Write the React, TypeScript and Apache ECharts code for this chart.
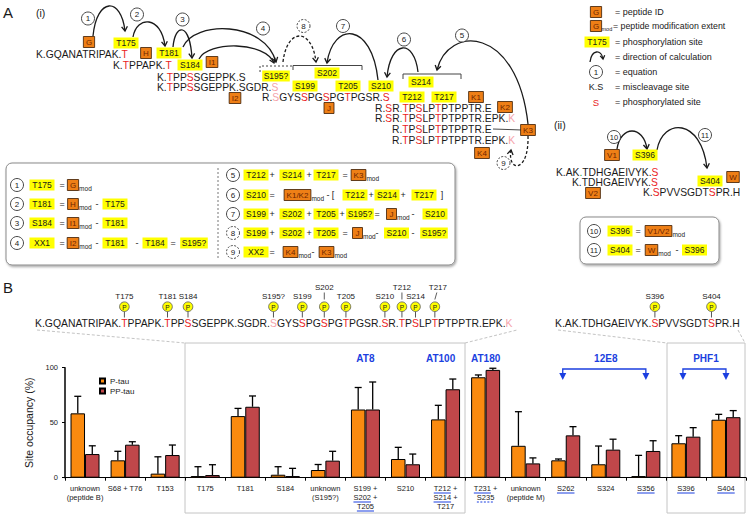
import React, { useEffect, useRef } from "react";
import * as echarts from "echarts";

// ---------------- data ----------------
const categories = [
  "unknown\n(peptide B)", "S68 + T76", "T153", "T175", "T181", "S184",
  "unknown\n(S195?)", "S199 +\nS202 +\nT205", "S210", "T212 +\nS214 +\nT217",
  "T231 +\nS235", "unknown\n(peptide M)", "S262", "S324", "S356", "S396", "S404",
];
const pTau = [58.5, 15.8, 3.7, 1.5, 56, 2.7, 7, 62, 17, 53, 91.3, 29, 15.8, 12.2, 1.5, 31.3, 52.7];
const pTauSd = [15.5, 8.2, 15.3, 8.5, 7, 7.3, 5, 20, 10.6, 12.8, 2.1, 31, 1.2, 16.6, 18.8, 6.9, 4.9];
const ppTau = [21.5, 30, 20.6, 2.4, 64.5, 1.5, 15.5, 62, 12.2, 80.4, 98, 13, 38.5, 25.5, 24.3, 37.3, 55];
const ppTauSd = [7.5, 2.7, 9.1, 9.4, 9.8, 7, 8.5, 25, 9.3, 9.3, 1.5, 5, 7.9, 9.5, 9.3, 8.2, 6];
const seriesNames = ["P-tau", "PP-tau"];
const yMin = 0;
const yMax = 100;
const yInterval = 50;
// [category index, label line, token, dashed]
const underlined: [number, number, string, boolean][] = [
  [7, 1, "S202", false], [7, 2, "T205", false], [9, 0, "T212", false], [9, 1, "S214", false],
  [10, 0, "T231", false], [10, 1, "S235", true], [12, 0, "S262", false], [14, 0, "S356", false],
  [15, 0, "S396", false], [16, 0, "S404", false],
];
// [antibody, first category, last category, bracket]
const antibodies: [string, number, number, boolean][] = [
  ["AT8", 7, 7, false], ["AT100", 9, 9, false], ["AT180", 10, 10, false],
  ["12E8", 12, 14, true], ["PHF1", 15, 16, true],
];
const seqB1 = "K.GQANATRIPAK.*TPPAPK.*TPP*SSGEPPK.SGDR.~SGYS*SPG*SPG*TPGSR.*SR.*TP*SLP*TPTPPTR.EPK.~K";
const sitesB1 = ["T175", "T181", "S184", "S195?", "S199", "S202", "T205", "S210", "T212", "S214", "T217"];
const seqB2 = "K.AK.TDHGAEIVYK.*SPVVSGDT*SPR.H";
const sitesB2 = ["S396", "S404"];
const raisedSites = ["S202", "T212", "T217"];

// ---------------- style ----------------
const FONT = '"Liberation Sans", Arial, Helvetica, sans-serif';
const INK = "#1a1a1a";
const YEL = "#FFFF00";
const ORG = "#EE7F16";
const ORG_TXT = "#6e2600";
const RED = "#EA1C24";
const PINK = "#F5A3AA";
const GREEN = "#28A040";
const BLUE = "#1B3FE0";
const GRAY = "#C4C4C4";
const BAR_O = "#FA8A0F";
const BAR_R = "#C0474A";
const BAR_W = 14.5;
const X_FONT = 7.5;
const X_LH = 9;
const X_MARGIN = 6;

let measureCtx: any = null;
function tw(text: string, size: number, weight = "normal") {
  if (!measureCtx) measureCtx = document.createElement("canvas").getContext("2d");
  measureCtx.font = `${weight} ${size}px "Liberation Sans", Arial, sans-serif`;
  return measureCtx.measureText(text).width;
}

function txt(out: any[], x: number, y: number, text: string, size = 9, fill = INK, align = "left", weight = "normal") {
  out.push({
    type: "text", x, y, silent: true, z: 10,
    style: {
      text, fontSize: size, fontFamily: FONT, fontWeight: weight, fill,
      align, textAlign: align, verticalAlign: "middle", textVerticalAlign: "middle",
    },
  });
}
function line(out: any[], x1: number, y1: number, x2: number, y2: number, stroke = INK, w = 1, dash?: number[]) {
  out.push({ type: "line", silent: true, shape: { x1, y1, x2, y2 }, style: { stroke, lineWidth: w, ...(dash ? { lineDash: dash } : {}) } });
}
function yLabel(out: any[], cx: number, cy: number, text: string, size = 8.5) {
  const W = Math.max(25, tw(text, size) + 3);
  out.push({ type: "rect", silent: true, shape: { x: cx - W / 2, y: cy - 5.5, width: W, height: 11 }, style: { fill: YEL } });
  txt(out, cx, cy + 0.3, text, size, INK, "center");
}
function oBox(out: any[], cx: number, cy: number, text: string, mod = false, size = 8) {
  const W = Math.max(10, tw(text, size) + 5);
  out.push({ type: "rect", silent: true, shape: { x: cx - W / 2, y: cy - 5.5, width: W, height: 11 }, style: { fill: ORG, stroke: "#3a1a00", lineWidth: 0.8 } });
  txt(out, cx, cy + 0.3, text, size, ORG_TXT, "center");
  if (mod) txt(out, cx + W / 2 + 0.5, cy + 3, "mod", 6.5, INK, "left");
}
function cNum(out: any[], cx: number, cy: number, n: string, dashed = false, r = 6.5) {
  out.push({ type: "circle", silent: true, shape: { cx, cy, r }, style: { fill: "#fff", stroke: "#333", lineWidth: 0.9, ...(dashed ? { lineDash: [2, 1.5] } : {}) } });
  txt(out, cx, cy + 0.3, n, n.length > 1 ? 7.5 : 8, INK, "center");
}
function curve(out: any[], x1: number, y1: number, c1x: number, c1y: number, c2x: number, c2y: number, x2: number, y2: number, dashed = false, head = 4.5) {
  out.push({
    type: "bezierCurve", silent: true,
    shape: { x1, y1, cpx1: c1x, cpy1: c1y, cpx2: c2x, cpy2: c2y, x2, y2 },
    style: { stroke: INK, lineWidth: 1.3, fill: "none", ...(dashed ? { lineDash: [3, 2] } : {}) },
  });
  const dx = x2 - c2x, dy = y2 - c2y;
  const L = Math.hypot(dx, dy) || 1;
  const ux = dx / L, uy = dy / L;
  const bx = x2 - ux * head, by = y2 - uy * head, h = head * 0.65;
  out.push({
    type: "polyline", silent: true,
    shape: { points: [[bx - uy * h, by + ux * h], [x2, y2], [bx + uy * h, by - ux * h]] },
    style: { stroke: INK, lineWidth: 1.3, fill: "none" },
  });
}
function arc(out: any[], x1: number, y1: number, x2: number, y2: number, peak: number, dashed = false, head = 4.5) {
  const cy = (peak - 0.125 * (y1 + y2)) / 0.75;
  curve(out, x1, y1, x1 + (x2 - x1) * 0.12, cy, x2 - (x2 - x1) * 0.12, cy, x2, y2, dashed, head);
}
function roundBox(out: any[], x: number, y: number, w: number, h: number) {
  out.push({
    type: "rect", silent: true, shape: { x, y, width: w, height: h, r: 6 },
    style: { fill: "#fff", stroke: "#8a8a8a", lineWidth: 1, shadowBlur: 2, shadowColor: "rgba(0,0,0,0.35)", shadowOffsetX: 1, shadowOffsetY: 1.5 },
  });
}
function parseSeq(s: string) {
  const chars: { c: string; k: string }[] = [];
  for (let i = 0; i < s.length; i++) {
    const ch = s[i];
    if (ch === "*" || ch === "~" || ch === "^") {
      chars.push({ c: s[i + 1], k: ch === "*" ? "r" : ch === "~" ? "p" : "g" });
      i++;
    } else chars.push({ c: ch, k: "k" });
  }
  return chars;
}
function seqText(out: any[], x: number, y: number, s: string, size = 10.3) {
  const chars = parseSeq(s);
  const segs: { t: string; k: string }[] = [];
  for (const ch of chars) {
    if (segs.length && segs[segs.length - 1].k === ch.k) segs[segs.length - 1].t += ch.c;
    else segs.push({ t: ch.c, k: ch.k });
  }
  const text = segs.map((g) => `{${g.k}|${g.t}}`).join("");
  const col: any = { k: INK, r: RED, p: PINK, g: GREEN };
  const rich: any = {};
  Object.keys(col).forEach((k) => (rich[k] = { fill: col[k], fontSize: size, fontFamily: FONT }));
  out.push({
    type: "text", silent: true, x, y, z: 10,
    style: { text, rich, fontSize: size, fontFamily: FONT, fill: INK, align: "left", textAlign: "left", verticalAlign: "middle", textVerticalAlign: "middle" },
  });
}
function markedCenters(x: number, s: string, size: number) {
  const chars = parseSeq(s);
  const plain = chars.map((c) => c.c).join("");
  const res: number[] = [];
  chars.forEach((c, i) => {
    if (c.k === "r" || c.k === "p") res.push(x + tw(plain.slice(0, i), size) + tw(c.c, size) / 2);
  });
  return res;
}
function phospho(out: any[], x: number, name: string) {
  line(out, x, 311.5, x, 317.5, "#555", 1);
  out.push({ type: "circle", silent: true, shape: { cx: x, cy: 306.7, r: 4.8 }, style: { fill: YEL, stroke: "#555", lineWidth: 0.8 } });
  txt(out, x, 307, "P", 6.5, INK, "center");
  if (raisedSites.includes(name)) {
    const slant = name === "T217";
    txt(out, x + (slant ? 3 : 0), 287, name, 8, INK, "center");
    line(out, x + (slant ? 2 : 0), 292.5, x, 299.5, "#333", 0.8);
  } else {
    txt(out, x, 296, name, 8, INK, "center");
  }
}

function staticGraphics() {
  const g: any[] = [];
  txt(g, 3, 12.5, "A", 15);
  txt(g, 36, 13, "(i)", 10.5);
  txt(g, 554, 125, "(ii)", 10.5);
  txt(g, 3, 287.5, "B", 15);

  // ---- A(i) arrows ----
  arc(g, 93, 36, 125, 31, 6);
  arc(g, 133, 37, 165, 46, 22);
  arc(g, 173, 47, 192, 58, 30);
  arc(g, 183, 47, 276, 62, 29);
  arc(g, 199, 59, 274, 63, 46);
  arc(g, 283, 62, 316, 62, 36, true);
  arc(g, 378, 80, 327, 63, 34);
  arc(g, 418, 72, 387, 77, 48);
  arc(g, 528, 124, 437, 70, 43);
  curve(g, 528, 136, 529, 174, 507, 172, 511, 150, true);
  line(g, 493, 129, 522, 130, INK, 0.8);

  // ---- A(i) brackets ----
  g.push({ type: "polyline", silent: true, shape: { points: [[260, 72], [260, 66], [293, 66]] }, style: { stroke: "#444", lineWidth: 1, lineDash: [2, 2], fill: "none" } });
  g.push({ type: "polyline", silent: true, shape: { points: [[293, 70], [293, 65.5], [362, 65.5], [362, 70]] }, style: { stroke: "#444", lineWidth: 1, fill: "none" } });
  g.push({ type: "polyline", silent: true, shape: { points: [[403, 79], [403, 74], [461, 74], [461, 79]] }, style: { stroke: "#444", lineWidth: 1, fill: "none" } });

  // ---- A(i) sequences ----
  seqText(g, 36, 54, "K.GQANATRIPAK.*T");
  seqText(g, 113, 65, "K.*TPPAPK.*T");
  seqText(g, 157, 77, "K.*TPP*SSGEPPK.S");
  seqText(g, 157, 87, "K.*TPP*SSGEPPK.SGDR.~S");
  seqText(g, 262, 97, "R.~SGYS*SPG*SPG*TPGSR.*S");
  seqText(g, 375, 108, "R.*SR^.*TP*SLP*TPTPPTR.E");
  seqText(g, 375, 118, "R.*SR^.*TP*SLP*TPTPPTR.EPK.~K");
  seqText(g, 392, 129, "R.*TP*SLP*TPTPPTR.E");
  seqText(g, 392, 140, "R.*TP*SLP*TPTPPTR.EPK.~K");

  // ---- A(i) labels ----
  oBox(g, 89, 42, "G"); yLabel(g, 126, 43, "T175");
  oBox(g, 146, 53, "H"); yLabel(g, 169, 53, "T181");
  yLabel(g, 190, 65, "S184"); oBox(g, 212, 62, "I1");
  oBox(g, 235, 98, "I2");
  yLabel(g, 276, 76, "S195?");
  yLabel(g, 327, 73, "S202"); yLabel(g, 305, 86, "S199"); yLabel(g, 348, 86, "T205"); yLabel(g, 381, 86, "S210");
  oBox(g, 329, 108, "J");
  yLabel(g, 421, 82, "S214"); yLabel(g, 412, 97, "T212"); yLabel(g, 444, 97, "T217");
  oBox(g, 476, 97, "K1"); oBox(g, 505, 107, "K2"); oBox(g, 528, 130, "K3"); oBox(g, 482, 153, "K4");

  cNum(g, 88, 18.5, "1"); cNum(g, 137, 14.5, "2"); cNum(g, 182.5, 19.5, "3"); cNum(g, 263, 28.5, "4");
  cNum(g, 303.5, 26, "8", true); cNum(g, 343, 26, "7"); cNum(g, 404, 39.5, "6"); cNum(g, 462, 35.5, "5");
  cNum(g, 503.5, 163, "9", true);

  // ---- legend (top right) ----
  oBox(g, 596, 12, "G"); txt(g, 615, 12, "= peptide ID", 9);
  oBox(g, 596, 26, "G"); txt(g, 601.5, 29, "mod", 5.5); txt(g, 613, 26, "= peptide modification extent", 8.8);
  yLabel(g, 597, 42, "T175"); txt(g, 615, 42, "= phosphorylation site", 9);
  arc(g, 590, 62, 603, 59, 52, false, 3.5); txt(g, 615, 57, "= direction of calculation", 9);
  cNum(g, 596, 72, "1"); txt(g, 615, 72, "= equation", 9);
  txt(g, 596, 87, "K.S", 9, INK, "center"); txt(g, 615, 87, "= miscleavage site", 9);
  txt(g, 596, 102, "S", 9.5, RED, "center"); txt(g, 615, 102, "= phosphorylated site", 9);

  // ---- A(ii) ----
  arc(g, 617, 149, 647, 149, 131);
  arc(g, 657, 150, 707, 168, 128);
  seqText(g, 556, 172, "K.AK^.TDHGAEIVYK.*S");
  seqText(g, 572, 182, "K.TDHGAEIVYK.*S");
  seqText(g, 643, 192, "K.*SPVVSGDT*SPR.H");
  oBox(g, 612, 155, "V1"); yLabel(g, 645, 155, "S396");
  oBox(g, 593, 193, "V2"); yLabel(g, 710, 181, "S404"); oBox(g, 733, 177, "W");
  cNum(g, 614, 137, "10"); cNum(g, 705, 135, "11");

  roundBox(g, 580, 217, 139, 47);
  cNum(g, 594, 231, "10"); yLabel(g, 620, 231, "S396"); txt(g, 638, 231, "=", 9, INK, "center"); oBox(g, 658.5, 231, "V1/V2", true);
  cNum(g, 594, 250, "11"); yLabel(g, 620, 250, "S404"); txt(g, 638, 250, "=", 9, INK, "center"); oBox(g, 651.5, 250, "W", true);
  txt(g, 677, 250, "-", 9, INK, "center"); yLabel(g, 694.5, 250, "S396");

  // ---- A(i) equations ----
  roundBox(g, 6, 163, 449, 102);
  line(g, 218, 168, 218, 260, "#777", 1, [2, 2]);
  const S = (x: number, y: number, s: string) => txt(g, x, y, s, 9, INK, "center");
  let y = 185;
  cNum(g, 17, y, "1"); yLabel(g, 42, y, "T175"); S(62, y, "="); oBox(g, 73, y, "G", true);
  y = 204;
  cNum(g, 17, y, "2"); yLabel(g, 42, y, "T181"); S(62, y, "="); oBox(g, 73, y, "H", true); S(97, y, "-"); yLabel(g, 115, y, "T175");
  y = 223;
  cNum(g, 17, y, "3"); yLabel(g, 42, y, "S184"); S(62, y, "="); oBox(g, 73, y, "I1", true); S(97, y, "-"); yLabel(g, 115, y, "T181");
  y = 243;
  cNum(g, 17, y, "4"); yLabel(g, 42, y, "XX1"); S(62, y, "="); oBox(g, 73, y, "I2", true); S(97, y, "-"); yLabel(g, 115, y, "T181");
  S(137, y, "-"); yLabel(g, 155, y, "T184"); S(173, y, "="); yLabel(g, 194, y, "S195?");
  y = 175;
  cNum(g, 233, y, "5"); yLabel(g, 256, y, "T212"); S(272, y, "+"); yLabel(g, 292, y, "S214"); S(309, y, "+"); yLabel(g, 326, y, "T217");
  S(345, y, "="); oBox(g, 358.5, y, "K3", true);
  y = 195;
  cNum(g, 233, y, "6"); yLabel(g, 256, y, "S210"); S(272, y, "="); oBox(g, 297.5, y, "K1/K2", true); S(328, y, "-"); S(333, y, "[");
  yLabel(g, 355, y, "T212"); S(371, y, "+"); yLabel(g, 387, y, "S214"); S(403, y, "+"); yLabel(g, 424, y, "T217"); S(442, y, "]");
  y = 214;
  cNum(g, 233, y, "7"); yLabel(g, 256, y, "S199"); S(272, y, "+"); yLabel(g, 292, y, "S202"); S(309, y, "+"); yLabel(g, 326, y, "T205");
  S(342, y, "+"); yLabel(g, 360, y, "S195?"); S(377, y, "="); oBox(g, 391.5, y, "J", true); S(413, y, "-"); yLabel(g, 435, y, "S210");
  y = 233;
  cNum(g, 233, y, "8", true); yLabel(g, 256, y, "S199"); S(272, y, "+"); yLabel(g, 292, y, "S202"); S(309, y, "+"); yLabel(g, 326, y, "T205");
  S(345, y, "="); oBox(g, 357.5, y, "J", true); S(377, y, "-"); yLabel(g, 396.5, y, "S210"); S(413, y, "-"); yLabel(g, 434, y, "S195?");
  y = 252;
  cNum(g, 233, y, "9", true); yLabel(g, 256, y, "XX2"); S(272, y, "="); oBox(g, 290.5, y, "K4", true); S(313, y, "-"); oBox(g, 326.5, y, "K3", true);

  // ---- B: sequence line ----
  line(g, 37, 330, 185, 343, GRAY, 1, [3, 2]);
  line(g, 465, 343, 517, 330, GRAY, 1, [3, 2]);
  line(g, 558, 330, 667, 343, GRAY, 1, [3, 2]);
  line(g, 738, 330, 745, 343, GRAY, 1, [3, 2]);
  g.push({ type: "rect", silent: true, shape: { x: 185, y: 343, width: 280, height: 170 }, style: { fill: "none", stroke: GRAY, lineWidth: 1 } });
  g.push({ type: "rect", silent: true, shape: { x: 667, y: 343, width: 78, height: 170 }, style: { fill: "none", stroke: GRAY, lineWidth: 1 } });

  seqText(g, 35, 323, seqB1, 10.4);
  seqText(g, 555, 323, seqB2, 10.4);
  const c1 = markedCenters(35, seqB1, 10.4);
  sitesB1.forEach((name, i) => phospho(g, c1[i], name));
  const c2 = markedCenters(555, seqB2, 10.4);
  sitesB2.forEach((name, i) => phospho(g, c2[i], name));
  return g;
}

function chartGraphics(chart: any) {
  const g: any[] = [];
  const xs = categories.map((c) => chart.convertToPixel({ xAxisIndex: 0 }, c));
  const y0 = chart.convertToPixel({ yAxisIndex: 0 }, 0);
  underlined.forEach(([ci, li, tok, dashed]) => {
    const lt = categories[ci].split("\n")[li];
    const start = xs[ci] - tw(lt, X_FONT) / 2 + tw(lt.slice(0, lt.indexOf(tok)), X_FONT);
    const yy = y0 + X_MARGIN + X_LH * (li + 1) + 0.3;
    line(g, start, yy, start + tw(tok, X_FONT), yy, BLUE, 1, dashed ? [2, 1.5] : undefined);
  });
  antibodies.forEach(([name, a, b, bracket]) => {
    const mid = (xs[a] + xs[b]) / 2 + (name === "AT100" ? -5 : 0);
    txt(g, mid, 358, name, 10, BLUE, "center", "bold");
    if (bracket) {
      const xa = xs[a] - 3, xb = xs[b];
      g.push({ type: "polyline", silent: true, shape: { points: [[xa, 374], [xa, 369], [xb, 369], [xb, 374]] }, style: { stroke: BLUE, lineWidth: 1.3, fill: "none" } });
      [xa, xb].forEach((x) => g.push({ type: "polygon", silent: true, shape: { points: [[x - 3.5, 373], [x + 3.5, 373], [x, 380]] }, style: { fill: BLUE } }));
    }
  });
  return g;
}

function buildOption() {
  const errData: number[][] = [];
  pTau.forEach((v, i) => errData.push([i, v, v + pTauSd[i], -1]));
  ppTau.forEach((v, i) => errData.push([i, v, v + ppTauSd[i], 1]));
  return {
    animation: false,
    textStyle: { fontFamily: FONT },
    grid: { left: 65, right: 4, top: 367.7, bottom: 41.3, containLabel: false },
    legend: {
      data: seriesNames, orient: "vertical", left: 99, top: 377, padding: 0,
      itemWidth: 5, itemHeight: 5, itemGap: 2, icon: "rect",
      textStyle: { fontSize: 8, color: INK, fontFamily: FONT },
    },
    xAxis: {
      type: "category", data: categories,
      axisLine: { lineStyle: { color: "#000", width: 1 } },
      axisTick: { show: true, length: 3, lineStyle: { color: "#000" } },
      axisLabel: { interval: 0, fontSize: X_FONT, lineHeight: X_LH, margin: X_MARGIN, color: INK, fontFamily: FONT },
    },
    yAxis: {
      type: "value", min: yMin, max: yMax, interval: yInterval,
      splitLine: { show: false },
      axisLine: { show: true, lineStyle: { color: "#000", width: 1.5 } },
      axisTick: { show: true, length: 3, lineStyle: { color: "#000" } },
      axisLabel: { fontSize: 7.5, margin: 7, color: INK, fontFamily: FONT },
      name: "Site occupancy (%)", nameLocation: "middle", nameGap: 19,
      nameTextStyle: { fontSize: 10.5, color: INK, fontFamily: FONT },
    },
    series: [
      { name: seriesNames[0], type: "bar", data: pTau, barWidth: BAR_W, barGap: "0%", itemStyle: { color: BAR_O, borderColor: "#000", borderWidth: 1 } },
      { name: seriesNames[1], type: "bar", data: ppTau, barWidth: BAR_W, barGap: "0%", itemStyle: { color: BAR_R, borderColor: "#000", borderWidth: 1 } },
      {
        type: "custom", z: 3, silent: true, data: errData, encode: { x: 0, y: [1, 2] },
        renderItem: (params: any, api: any) => {
          const i = api.value(0), v = api.value(1), up = api.value(2), side = api.value(3);
          const b = api.coord([i, v]);
          const t = api.coord([i, up]);
          const x = b[0] + side * (BAR_W / 2);
          return {
            type: "group",
            children: [
              { type: "line", shape: { x1: x, y1: b[1], x2: x, y2: t[1] }, style: { stroke: "#000", lineWidth: 1.3 } },
              { type: "line", shape: { x1: x - 3.5, y1: t[1], x2: x + 3.5, y2: t[1] }, style: { stroke: "#000", lineWidth: 1.3 } },
            ],
          };
        },
      },
    ],
  };
}

export default function App() {
  const ref = useRef<HTMLDivElement>(null);
  useEffect(() => {
    const chart = echarts.init(ref.current!, undefined, { renderer: "svg" });
    chart.setOption(buildOption() as any);
    chart.setOption({ graphic: { elements: [...staticGraphics(), ...chartGraphics(chart)] } } as any);
    return () => chart.dispose();
  }, []);
  return <div ref={ref} style={{ position: "fixed", left: 0, top: 0, width: 750, height: 519, background: "#fff" }} />;
}
